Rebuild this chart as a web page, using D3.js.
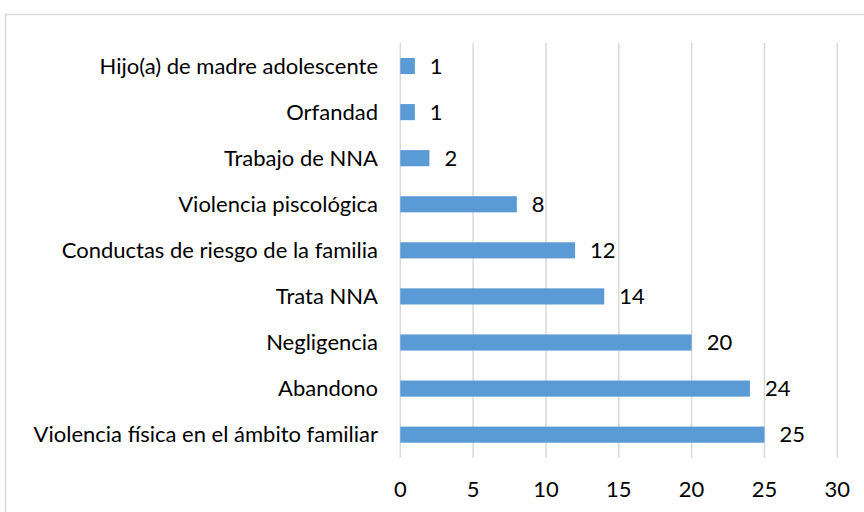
<!DOCTYPE html>
<html>
<head>
<meta charset="utf-8">
<script src="https://cdn.jsdelivr.net/npm/d3@7"></script>
<style>
  body { margin: 0; background: #fff; }
  svg text { font-family: Lato, "Open Sans", sans-serif; fill: #000; }
</style>
</head>
<body>
<div id="chart"></div>
<script>
var categories = [
  "Hijo(a) de madre adolescente",
  "Orfandad",
  "Trabajo de NNA",
  "Violencia piscológica",
  "Conductas de riesgo de la familia",
  "Trata NNA",
  "Negligencia",
  "Abandono",
  "Violencia física en el ámbito familiar"
];
var values = [1, 1, 2, 8, 12, 14, 20, 24, 25];
var xTicks = [0, 5, 10, 15, 20, 25, 30];

var width = 864, height = 512;
var svg = d3.select("#chart").append("svg")
  .attr("width", width)
  .attr("height", height);

// chart area border
svg.append("rect")
  .attr("x", 5.5).attr("y", 14.5)
  .attr("width", 880).attr("height", 520)
  .attr("fill", "none")
  .attr("stroke", "#d9d9d9")
  .attr("stroke-width", 1.5);

var x = d3.scaleLinear().domain([0, 30]).range([400.3, 837.3]);
var y = d3.scaleBand().domain(categories).range([43, 457.7]).paddingInner(0.65).paddingOuter(0.325);

// gridlines
svg.append("g").selectAll("line")
  .data(xTicks)
  .enter().append("line")
  .attr("x1", function(d) { return x(d); })
  .attr("x2", function(d) { return x(d); })
  .attr("y1", 43).attr("y2", 457.7)
  .attr("stroke", "#d9d9d9")
  .attr("stroke-width", 1.5);

// x tick labels
svg.append("g").selectAll("text")
  .data(xTicks)
  .enter().append("text")
  .attr("x", function(d) { return x(d); })
  .attr("y", 497)
  .attr("text-anchor", "middle")
  .style("font-size", "22px")
  .text(function(d) { return d; });

// category labels
svg.append("g").selectAll("text")
  .data(categories)
  .enter().append("text")
  .attr("x", 378)
  .attr("y", function(d) { return y(d) + y.bandwidth() / 2; })
  .attr("dy", "0.35em")
  .attr("text-anchor", "end")
  .style("font-size", "22px")
  .text(function(d) { return d; });

// bars
svg.append("g").selectAll("rect")
  .data(values)
  .enter().append("rect")
  .attr("x", x(0))
  .attr("y", function(d, i) { return y(categories[i]); })
  .attr("width", function(d) { return x(d) - x(0); })
  .attr("height", y.bandwidth())
  .attr("fill", "#5b9bd5");

// value labels
svg.append("g").selectAll("text")
  .data(values)
  .enter().append("text")
  .attr("x", function(d) { return x(d) + 15; })
  .attr("y", function(d, i) { return y(categories[i]) + y.bandwidth() / 2; })
  .attr("dy", "0.35em")
  .style("font-size", "22px")
  .text(function(d) { return d; });
</script>
</body>
</html>
